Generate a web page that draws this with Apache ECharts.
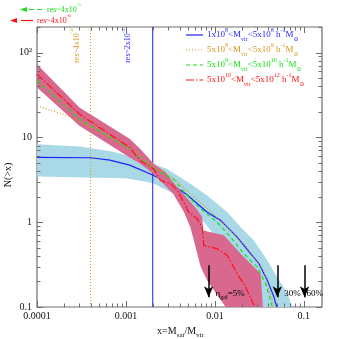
<!DOCTYPE html>
<html>
<head>
<meta charset="UTF-8">
<title>N(>x)</title>
<script src="https://cdn.jsdelivr.net/npm/echarts@6.0.0/dist/echarts.min.js"></script>
<style>
  html, body { margin: 0; padding: 0; background: #fff; }
  #chart { width: 339px; height: 339px; }
</style>
</head>
<body>
<div id="chart"></div>
<script>
// values, x = Msat/Mvir, y = N(>x)
const blueLine = [[0.0001, 5.8], [0.0004, 5.75], [0.00066, 5.4], [0.0011, 4.7], [0.002, 3.6], [0.0032, 2.8], [0.0047, 2.16], [0.0082, 1.31], [0.0116, 1.05], [0.0178, 0.667], [0.0252, 0.425], [0.0313, 0.324], [0.0389, 0.206], [0.0461, 0.131], [0.0496, 0.1]];
const blueUpper = [[0.0001, 8.3], [0.0003, 7.8], [0.0007, 6.8], [0.0015, 5.5], [0.0029, 4.25], [0.0053, 2.83], [0.0082, 2.06], [0.0138, 1.31], [0.0195, 0.87], [0.0275, 0.61], [0.0389, 0.354], [0.0503, 0.225], [0.0653, 0.144], [0.0744, 0.1]];
const blueLower = [[0.0001, 3.45], [0.001, 3.3], [0.002, 2.9], [0.004, 2.0], [0.007, 1.1], [0.012, 0.55], [0.02, 0.25], [0.03, 0.1]];

const orangeLine = [[0.0001, 23.6], [0.00015, 20.5], [0.00022, 18], [0.0003, 15.5], [0.00045, 12.5], [0.0007, 9.8], [0.0011, 7.5], [0.002, 4.6], [0.0034, 3.3], [0.0053, 2.16], [0.0085, 1.4], [0.0126, 0.95], [0.0231, 0.5], [0.0356, 0.26], [0.0461, 0.1]];

const greenLine = [[0.0001, 46.4], [0.0003, 16.5], [0.0011, 7.3], [0.00205, 4.25], [0.0034, 3.24], [0.0049, 2.06], [0.0069, 1.44], [0.0106, 1.0], [0.015, 0.667], [0.0212, 0.425], [0.030, 0.295], [0.0372, 0.188], [0.0442, 0.1]];

const redLine = [[0.0001, 55.7], [0.0003, 18.8], [0.0011, 7.6], [0.00145, 5.3], [0.00205, 4.25], [0.00244, 3.1], [0.0032, 2.83], [0.0038, 2.36], [0.0051, 1.31], [0.0063, 1.1], [0.0072, 0.87], [0.0075, 0.53], [0.0106, 0.486], [0.0138, 0.405], [0.0178, 0.247], [0.0221, 0.172], [0.0275, 0.105]];
const redUpper = [[0.0001, 73], [0.0003, 22.5], [0.0011, 9.6], [0.00145, 7.3], [0.00205, 4.87], [0.0028, 3.87], [0.0034, 2.95], [0.0045, 2.1], [0.006, 1.5], [0.0072, 1.15], [0.0074, 0.8], [0.0126, 0.7], [0.0195, 0.425], [0.0327, 0.247], [0.0346, 0.1]];
const redLower = [[0.0001, 38.7], [0.0003, 13.7], [0.0011, 5.8], [0.00145, 4.87], [0.00205, 3.7], [0.0034, 2.16], [0.0045, 1.31], [0.0053, 0.87], [0.0058, 0.61], [0.0069, 0.3], [0.0082, 0.206], [0.0132, 0.1]];

const resLines = [0.0004, 0.002];
const resLabels = ['{n|res~4x10}{p|-4}', '{n|res~2x10}{p|-3}'];
const arrowX = [0.0085, 0.0503, 0.102];
const arrowTop = 0.31, arrowTip = 0.13;
const arrowLabels = ['{n|η}{s|gal}{n|=5%}', '{n|30%}', '{n|60%}'];

const xTickLabels = ['0.0001', '0.001', '0.01', '0.1'];
const yTickLabels = ['0.1', '1', '10', '10²'];
const legendLabels = [
    '{n|1x10}{p|8}{n|<M}{s|vir}{n|<5x10}{p|8}{n| h}{p|-1}{n|M}{s|⊙}',
    '{n|5x10}{p|8}{n|<M}{s|vir}{n|<5x10}{p|9}{n| h}{p|-1}{n|M}{s|⊙}',
    '{n|5x10}{p|9}{n|<M}{s|vir}{n|<5x10}{p|10}{n| h}{p|-1}{n|M}{s|⊙}',
    '{n|5x10}{p|10}{n|<M}{s|vir}{n|<5x10}{p|12}{n| h}{p|-1}{n|M}{s|⊙}'
];

const BLUE = '#1f1fff', ORANGE = '#d9961c', GREEN = '#18e018', RED = '#ff1010';
const PINK = '#d9688e', LIGHTBLUE = '#a9d8e6';
const serif = 'Liberation Serif, DejaVu Serif, serif';
const axisColor = '#6e6e6e';

const xMin = 0.0001, xMax = 0.16, yMin = 0.1, yMax = 200;

// zrender rich styles for graphic texts (fill, not color)
function rich(size, color) {
    const small = Math.round(size * 0.68);
    return {
        n: { fontSize: size, fill: color, fontFamily: serif, lineHeight: size + 6, verticalAlign: 'middle' },
        s: { fontSize: small, fill: color, fontFamily: serif, lineHeight: small + 2, verticalAlign: 'bottom' },
        p: { fontSize: small, fill: color, fontFamily: serif, lineHeight: small + 2, verticalAlign: 'top' }
    };
}

function band(name, upper, lower, color, z) {
    const poly = upper.concat(lower.slice().reverse());
    return {
        type: 'custom', name: name, z: z, silent: true,
        data: poly,
        renderItem: function (params, api) {
            if (params.dataIndex !== 0) return null;
            return {
                type: 'polygon',
                shape: { points: poly.map(p => api.coord(p)) },
                style: { fill: color }
            };
        }
    };
}

function curve(name, data, color, dash, z) {
    return {
        type: 'line', name: name, data: data, z: z, silent: true,
        showSymbol: false, smooth: false,
        lineStyle: { color: color, width: 1.2, type: dash }
    };
}

const chart = echarts.init(document.getElementById('chart'));

function isPow10(v) {
    const l = Math.log10(v);
    return Math.abs(l - Math.round(l)) < 1e-6;
}

const resColors = [ORANGE, BLUE];
const resDash = [[1, 2], null];

const option = {
    animation: false,
    grid: { left: 37, right: 17, top: 27, bottom: 32, show: true, borderColor: axisColor, borderWidth: 1.2 },
    xAxis: {
        type: 'log', min: xMin, max: xMax, logBase: 10,
        axisLine: { show: false }, axisTick: { show: false }, splitLine: { show: false },
        axisLabel: {
            fontFamily: serif, fontSize: 10, color: '#111', margin: 4, showMaxLabel: false,
            formatter: v => isPow10(v) ? xTickLabels[Math.round(Math.log10(v)) + 4] : ''
        }
    },
    yAxis: {
        type: 'log', min: yMin, max: yMax, logBase: 10,
        axisLine: { show: false }, axisTick: { show: false }, splitLine: { show: false },
        axisLabel: {
            fontFamily: serif, fontSize: 10, color: '#111', margin: 5, showMaxLabel: false,
            formatter: v => isPow10(v) ? yTickLabels[Math.round(Math.log10(v)) + 1] : ''
        }
    },
    series: [
        band('blueBand', blueUpper, blueLower, LIGHTBLUE, 1),
        curve('blue', blueLine, BLUE, 'solid', 2),
        // resolution limits, drawn under the pink band
        {
            type: 'custom', name: 'res', z: 2, silent: true,
            data: resLines.map(x => [x, yMin]),
            renderItem: function (params, api) {
                const x = api.value(0);
                const a = api.coord([x, yMin]), b = api.coord([x, yMax]);
                return {
                    type: 'line',
                    shape: { x1: a[0], y1: a[1], x2: b[0], y2: b[1] },
                    style: { stroke: resColors[params.dataIndex], lineWidth: 1, lineDash: resDash[params.dataIndex] }
                };
            }
        },
        band('redBand', redUpper, redLower, PINK, 3),
        curve('orange', orangeLine, ORANGE, [1, 2], 4),
        curve('green', greenLine, GREEN, [4, 3], 5),
        Object.assign(curve('red', redLine, RED, [8, 2, 1.5, 2], 6), {
            markLine: {
                silent: true, symbol: ['none', 'arrow'], symbolSize: [7, 11],
                label: { show: false },
                lineStyle: { color: '#000', type: 'solid', width: 1.5 },
                data: arrowX.map(x => [{ coord: [x, arrowTop] }, { coord: [x, arrowTip] }])
            }
        })
    ]
};
chart.setOption(option);

// ticks, labels, legend and annotations
function decorate() {
    const g = [];
    const toX = v => chart.convertToPixel({ xAxisIndex: 0 }, v);
    const toY = v => chart.convertToPixel({ yAxisIndex: 0 }, v);
    const left = toX(xMin), right = toX(xMax), bottom = toY(yMin), top = toY(yMax);
    const tick = (x1, y1, x2, y2) => g.push({ type: 'line', silent: true, z: 100, shape: { x1, y1, x2, y2 }, style: { stroke: axisColor, lineWidth: 1 } });
    const text = (x, y, t, size, color, align, rot) => g.push({
        type: 'text', silent: true, z: 100, x: x, y: y, rotation: rot || 0,
        style: { text: t, rich: rich(size, color), align: align, verticalAlign: 'middle' }
    });

    for (let d = -4; d <= 0; d++) {
        for (let m = 1; m <= 9; m++) {
            const v = m * Math.pow(10, d);
            if (v < xMin * 0.999 || v > xMax) continue;
            const px = Math.round(toX(v)) + 0.5;
            const len = m === 1 ? 6 : 3.5;
            tick(px, bottom, px, bottom - len);
            tick(px, top, px, top + len);
        }
    }
    for (let d = -1; d <= 2; d++) {
        for (let m = 1; m <= 9; m++) {
            const v = m * Math.pow(10, d);
            if (v < yMin * 0.999 || v > yMax) continue;
            const py = Math.round(toY(v)) + 0.5;
            const len = m === 1 ? 6 : 3.5;
            tick(left, py, left + len, py);
            tick(right, py, right - len, py);
        }
    }

    // resolution labels along the vertical lines
    const resOffset = [-14, -25];
    resLines.forEach((x, i) => text(toX(x) + resOffset[i], top + 2, resLabels[i], 8, resColors[i], 'right', Math.PI / 2));

    // arrow labels
    const arrowDx = [7, 7, 2];
    arrowX.forEach((x, i) => text(toX(x) + arrowDx[i], toY(arrowTip) - 4, arrowLabels[i], 9, '#000', 'left'));

    // legend
    const legColors = [BLUE, ORANGE, GREEN, RED];
    const legDash = [null, [1, 2], [4, 3], [8, 2, 1.5, 2]];
    legendLabels.forEach((t, i) => {
        const y = 35 + i * 15;
        g.push({ type: 'line', silent: true, z: 100, shape: { x1: 186, y1: y, x2: 203, y2: y }, style: { stroke: legColors[i], lineWidth: 1.2, lineDash: legDash[i] } });
        text(207, y, t, 9, legColors[i], 'left');
    });

    // resolution arrows beyond the left edge
    g.push({ type: 'polygon', silent: true, z: 100, shape: { points: [[20, 9.5], [27, 7], [27, 12]] }, style: { fill: GREEN } });
    g.push({ type: 'line', silent: true, z: 100, shape: { x1: 29, y1: 9.5, x2: 44, y2: 9.5 }, style: { stroke: GREEN, lineWidth: 1.2, lineDash: [5, 3] } });
    text(47, 9.5, '{n|res~4x10}{p|-5}', 8, GREEN, 'left');
    g.push({ type: 'polygon', silent: true, z: 100, shape: { points: [[10, 20.5], [17, 18], [17, 23]] }, style: { fill: RED } });
    g.push({ type: 'line', silent: true, z: 100, shape: { x1: 21, y1: 20.5, x2: 33, y2: 20.5 }, style: { stroke: RED, lineWidth: 1.2 } });
    text(37, 20.5, '{n|res~4x10}{p|-6}', 8, RED, 'left');

    // axis titles
    text((left + right) / 2 + 1, 331, '{n|x=M}{s|sat}{n|/M}{s|vir}', 10, '#111', 'center');
    text(8, 175, '{n|N(>x)}', 10, '#111', 'center', Math.PI / 2);

    chart.setOption({ graphic: g });
}
decorate();

window.addEventListener('resize', function () {
    chart.resize();
    decorate();
});
</script>
</body>
</html>
